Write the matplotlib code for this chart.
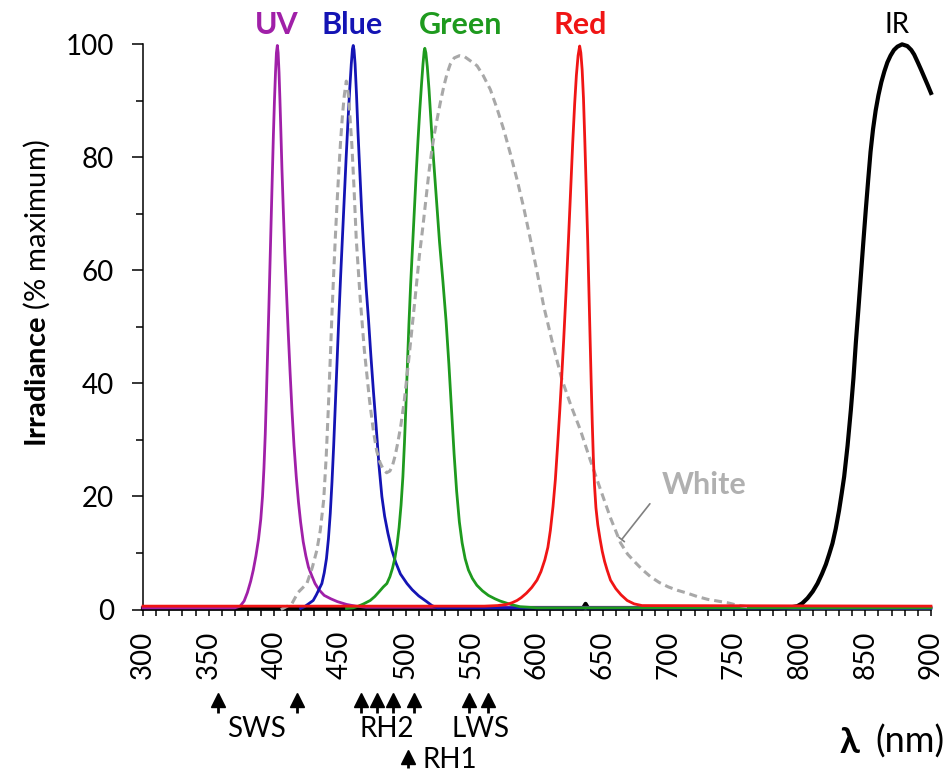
import numpy as np
import matplotlib
matplotlib.use("Agg")
import matplotlib.pyplot as plt
from matplotlib.ticker import MultipleLocator

plt.rcParams['font.family'] = ['Lato', 'DejaVu Sans']
plt.rcParams['mathtext.fontset'] = 'custom'
plt.rcParams['mathtext.rm'] = 'Lato'
plt.rcParams['mathtext.bf'] = 'Lato:bold'

# --- spectra (wavelength nm, irradiance % of max) ---
uv_nm = [300, 370, 374, 377, 379.5, 382, 384, 386, 388, 389.7, 391, 392.1, 393.1, 394, 394.9,
         395.8, 396.7, 397.6, 398.5, 399.3, 400.1, 400.9, 401.6, 402.3, 402.9, 403.6, 404.3,
         405, 405.8, 406.8, 408, 409.3, 410.6, 412, 413.5, 415, 416.7, 418.4, 420, 422, 424,
         426, 428.5, 431, 434, 438, 443, 448, 455, 462, 470, 900]
uv_pct = [0.3, 0.3, 0.6, 1.5, 3, 5, 7, 9.5, 12.5, 16, 20, 25, 31, 38, 45.5,
          53, 61, 69, 77, 84, 90, 95, 98.5, 99.8, 98.5, 95, 90,
          84.5, 78, 71, 63, 56, 49, 42, 35, 29, 23.5, 19, 15.5, 12, 9.5,
          7.5, 6, 4.6, 3.5, 2.5, 1.9, 1.4, 0.9, 0.6, 0.4, 0.4]

blue_nm = [420, 423, 426, 429.6, 432, 434.3, 436.2, 438, 439.7, 441.2, 442.6, 443.9, 445.2, 446.5,
           447.8, 449.1, 450.5, 451.9, 453.3, 454.7, 456.1, 457.4, 458.6, 459.5, 460.1, 460.7,
           461.5, 462.6, 463.7, 465, 466.5, 467.9, 469.9, 471.8, 473.5, 475.5, 477.5, 479.7,
           481.9, 484, 486.5, 489.5, 492.5, 496, 501, 505, 510, 516, 520, 524, 900]
blue_pct = [0.2, 0.5, 1, 1.6, 2.6, 3.7, 4.6, 6.5, 9, 12.5, 17, 22.5, 29, 36.5,
            44, 51.5, 59, 66, 73, 80, 86.5, 92, 96.5, 99.2, 99.8, 99,
            96.5, 91, 84.5, 78, 70.5, 64.5, 57, 51, 45, 38.5, 32.5, 25.5,
            20, 16.5, 13.5, 10.5, 8.3, 6.3, 4.6, 3.5, 2.4, 1.4, 0.7, 0.3, 0.2]

green_nm = [455, 460, 464, 468, 473, 476.5, 480, 483, 485.7, 488, 490, 491.8, 493.5, 495, 496.5,
            497.9, 499.1, 500.2, 501.3, 502.5, 503.8, 505.2, 506.6, 508, 509.4, 510.8, 512.1,
            513.2, 514.1, 514.6, 515.4, 516.5, 517.8, 519, 520.2, 521.6, 523, 524.4, 525.8,
            528.4, 530.8, 532.9, 534.9, 536.9, 538.8, 540.9, 543, 545.3, 547.8, 550.8, 554.2,
            558.5, 563, 568, 572, 580, 587, 600, 900]
green_pct = [0.2, 0.3, 0.6, 1, 1.6, 2.3, 3.2, 4, 4.6, 5.8, 7.3, 9.1, 11.5, 14.5, 18.5,
             23.5, 29.5, 36, 43, 50.5, 57.5, 64, 70.5, 77, 83, 88.5, 93,
             96.5, 98.8, 99.3, 98.5, 96, 92, 87.5, 83, 78.5, 74, 69.5, 65,
             58, 51, 43.5, 35.5, 27.5, 21, 15.5, 11.8, 9, 7, 5.5, 4.3,
             3.3, 2.5, 1.9, 1.5, 0.9, 0.5, 0.3, 0.3]

red_nm = [300, 560, 570, 577, 581, 584.8, 588, 592, 596, 600, 603, 606, 608.3, 610.2, 612.2,
          614, 615.7, 617.3, 618.8, 620.4, 622.1, 623.9, 625.6, 627.2, 628.7, 630, 631.3, 632.5,
          633.4, 634.4, 635.4, 636.4, 637.5, 638.6, 639.6, 640.5, 641.3, 642.1, 642.9, 643.8,
          644.9, 646.3, 648, 649.7, 651.5, 653.4, 656, 660, 664, 668.7, 674, 680, 900]
red_pct = [0.6, 0.6, 0.7, 0.9, 1.2, 1.6, 2.1, 2.9, 3.9, 5.2, 6.7, 8.8, 11, 14, 18.2,
           23, 29, 35, 41, 48, 56, 65, 74, 82.5, 89.5, 94.5, 98, 99.7,
           98.5, 95.5, 90.5, 83.2, 74.5, 65.5, 56, 47.5, 40, 33, 27, 22,
           18, 15, 12.5, 10.3, 8.5, 7, 5.2, 3.7, 2.6, 1.6, 1, 0.7, 0.6]

white_nm = [405, 413.3, 418, 424.8, 429, 432.4, 435, 437.6, 439.5, 441.2, 442.7, 444, 445.3,
            446.6, 447.9, 449.2, 450.5, 451.9, 453.3, 454.8, 455.8, 456.8, 457.8, 459.1, 460.7,
            462.4, 465.4, 468.5, 472.5, 475.5, 478, 480.5, 483, 485.5, 488, 490, 492, 494,
            496.3, 499, 501.8, 504.5, 507.6, 510.4, 513, 515.4, 517.8, 520, 522, 523.9, 526.5,
            529, 531.5, 534, 537, 541, 545, 548, 551, 554.4, 559, 564.5, 569.5, 574.7, 579.8,
            584.9, 590, 595, 600, 605.2, 612, 619, 626, 633, 640.5, 648.4, 656, 663.6, 669,
            675, 680.5, 686.5, 693, 700, 707, 714.4, 722, 730, 737.5, 745, 752, 760]
white_pct = [0, 1.0, 3, 4.6, 7.5, 10.5, 14, 19.4, 27, 36, 45, 53, 60,
             66.5, 72.5, 78, 83, 87.5, 91, 93.5, 92.3, 90, 86.5, 82, 74.5,
             65.5, 55, 46, 37, 31.5, 28, 26, 24.8, 24.2, 24.5, 25.5, 27.2, 29.5,
             32.5, 37, 43, 49, 56, 62.5, 67.5, 72.5, 77.5, 81.4, 84.3, 86.7, 89.8,
             92.5, 94.8, 96.5, 97.6, 98, 97.8, 97.3, 96.8, 96.2, 94.5, 92, 88.7, 84.9, 80.6,
             76, 71, 65.5, 59.8, 53.6, 47, 40.7, 36, 31.8, 26.5, 21.2, 16.2, 11.8, 9.8,
             8.3, 7, 5.8, 4.8, 4, 3.4, 2.9, 2.3, 1.8, 1.5, 1.2, 0.8, 0.5]

ir_nm = [300, 635, 637, 639, 770, 783, 790, 795, 798.3, 802, 806, 810, 813.6, 817, 820, 822.5,
         825, 827.5, 830, 832, 833.9, 836.5, 839, 841, 842.8, 844.7, 846.6, 848.5, 850.4, 852.2,
         854, 855.9, 857.9, 860, 862.2, 864.5, 866.8, 869.2, 871.8, 874.5, 878, 882, 885, 887.2,
         890, 892.5, 894.9, 897.5, 900]
ir_pct = [0.2, 0.2, 1.0, 0.2, 0.2, 0.2, 0.3, 0.45, 0.6, 1.1, 2, 3.2, 4.6, 6.3, 8, 9.8,
          11.7, 14.3, 17.5, 20.5, 23.5, 29, 35.3, 41, 47.2, 53, 59, 65, 70.8, 76,
          81, 85, 88.3, 91, 93.3, 95.2, 96.8, 98, 99, 99.6, 100, 99.7, 99, 98.2,
          96.8, 95.5, 94.2, 92.8, 91.4]

# opsin peak wavelengths marked below the axis
sws_nm = [357, 417]
rh2_nm = [466, 478, 490, 506]
lws_nm = [548, 563]
rh1_nm = [502]

fig = plt.figure(figsize=(9.52, 7.74), dpi=100)
ax = fig.add_axes([0.1502, 0.2125, 0.8277, 0.7302])

lw = 2.0
ax.plot(ir_nm, ir_pct, color="black", lw=3.0, clip_on=False, zorder=2)
ax.plot(uv_nm, uv_pct, color="#A020A8", lw=lw, clip_on=False, zorder=3)
ax.plot(blue_nm, blue_pct, color="#1414B4", lw=lw, clip_on=False, zorder=3)
ax.plot(green_nm, green_pct, color="#1E9A1E", lw=lw, clip_on=False, zorder=3)
ax.plot(white_nm, white_pct, color="#A8A8A8", lw=2.2, dashes=(2.6, 1.6), clip_on=False, zorder=4)
ax.plot(red_nm, red_pct, color="#F01515", lw=lw, clip_on=False, zorder=5)

ax.set_xlim(300, 900)
ax.set_ylim(0, 100)
ax.xaxis.set_major_locator(MultipleLocator(50))
ax.xaxis.set_minor_locator(MultipleLocator(10))
ax.yaxis.set_major_locator(MultipleLocator(20))
ax.yaxis.set_minor_locator(MultipleLocator(10))
for s in ["top", "right"]:
    ax.spines[s].set_visible(False)
for s in ["left", "bottom"]:
    ax.spines[s].set_linewidth(1.1)
ax.tick_params(axis="x", which="both", direction="out", length=4, width=1.1, labelsize=20,
               pad=11, labelrotation=90)
ax.tick_params(axis="y", which="major", direction="out", length=8, width=1.1, labelsize=20, pad=13)
ax.tick_params(axis="y", which="minor", direction="out", length=5, width=1.1)

ax.set_ylabel(r"$\mathbf{Irradiance}$ (% maximum)", fontsize=21)
ax.yaxis.set_label_coords(-0.115, 0.56)

# series labels
lab_kw = dict(ha="center", va="center", fontsize=22, fontweight="bold", clip_on=False)
ax.text(402, 103.5, "UV", color="#A020A8", **lab_kw)
ax.text(459.5, 103.5, "Blue", color="#1414B4", **lab_kw)
ax.text(541.5, 103.5, "Green", color="#1E9A1E", **lab_kw)
ax.text(633, 103.5, "Red", color="#F01515", **lab_kw)
ax.text(874.5, 103.5, "IR", color="black", ha="center", va="center", fontsize=20)
ax.text(727, 22, "White", color="#B0B0B0", ha="center", va="center", fontsize=22,
        fontweight="bold")
ax.annotate("", xy=(663.2, 12.0), xytext=(687.3, 19.1),
            arrowprops=dict(arrowstyle="-[,widthB=0.25,lengthB=0", color="#808080", lw=1.2))

# opsin arrows below axis
trans = ax.get_xaxis_transform()
for xs, yc, y0, y1 in [(sws_nm + rh2_nm + lws_nm, -0.160, -0.170, -0.183),
                       (rh1_nm, -0.261, -0.271, -0.281)]:
    ax.plot(xs, [yc] * len(xs), "^", color="black", ms=10, transform=trans, clip_on=False)
    ax.vlines(xs, y0, y1, color="black", lw=2, transform=trans, clip_on=False)

grp_kw = dict(ha="center", va="center", fontsize=20, transform=trans)
ax.text(386.6, -0.212, "SWS", **grp_kw)
ax.text(485.6, -0.212, "RH2", **grp_kw)
ax.text(557.2, -0.212, "LWS", **grp_kw)
ax.text(533.8, -0.266, "RH1", **grp_kw)

ax.text(0.9099, -0.2344, "λ", ha="right", va="center", fontsize=26, fontweight="bold",
        transform=ax.transAxes)
ax.text(1.0178, -0.2344, "(nm)", ha="right", va="center", fontsize=26, transform=ax.transAxes)

fig.savefig("out.png", dpi=100)
